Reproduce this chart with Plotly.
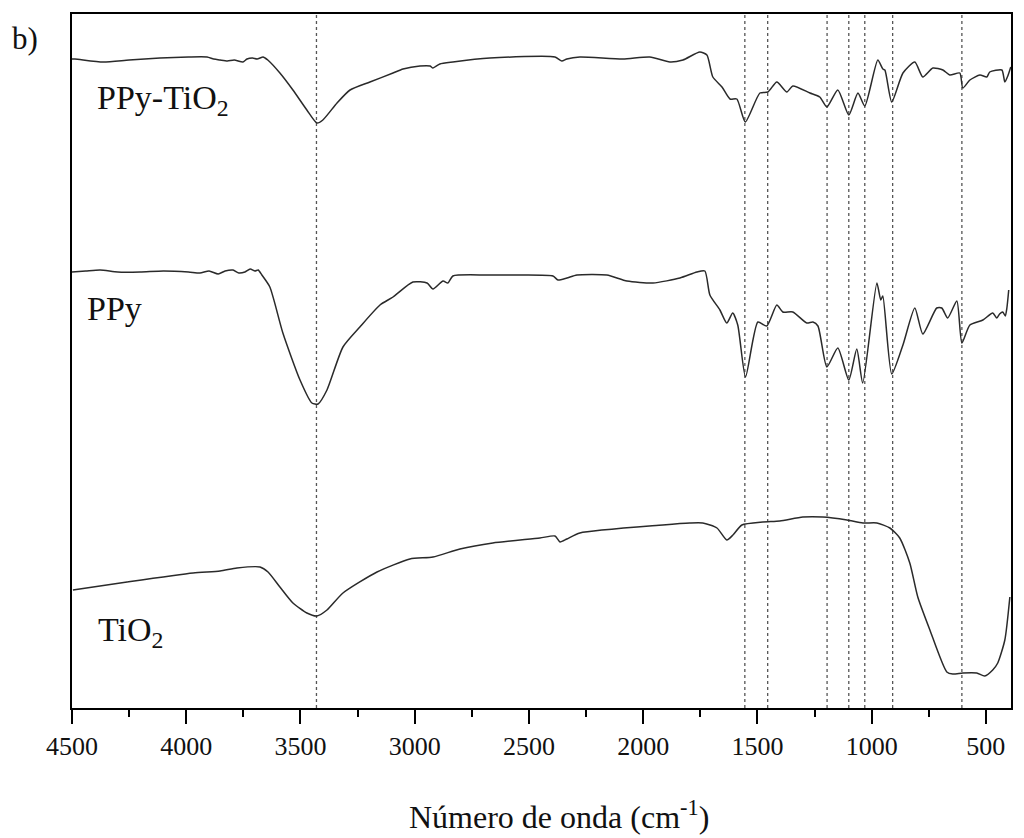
import plotly.graph_objects as go

# ---------------- data (wavenumber in cm-1, transmittance in arbitrary units) -------------
ppy_tio2_wn = [4500, 4487, 4364, 4250, 4115, 3990, 3909, 3880, 3852, 3820, 3790, 3752, 3740, 3734,
               3710, 3690, 3664, 3655, 3643, 3590, 3533, 3472, 3428, 3402, 3340, 3283, 3196, 3095,
               3051, 2977, 2933, 2920, 2890, 2833, 2671, 2386, 2356, 2334, 2277, 2089, 1971, 1883,
               1826, 1752, 1721, 1695, 1655, 1620, 1590, 1553, 1489, 1454, 1415, 1371, 1345, 1270,
               1227, 1196, 1148, 1100, 1060, 1030, 973, 951, 942, 912, 863, 811, 776, 732, 688, 658,
               614, 601, 570, 526, 496, 483, 430, 417, 404, 391]
ppy_tio2_t = [649, 649, 646, 648, 650, 651, 651, 649, 648, 647, 648, 646, 648, 649,
              650, 649, 651, 650, 648, 635, 618, 598, 585, 588, 605, 618, 626, 635,
              639, 642, 642, 640, 644, 646, 650, 651, 647, 649, 651, 649, 651, 646,
              648, 656, 653, 631, 621, 609, 609, 586, 615, 616, 626, 616, 622, 615,
              611, 601, 618, 593, 615, 602, 648, 639, 638, 606, 635, 646, 631, 640, 638, 633,
              635, 620, 628, 633, 631, 636, 638, 626, 632, 641]

ppy_wn = [4500, 4440, 4377, 4300, 4202, 4100, 3990, 3940, 3900, 3860, 3830, 3795, 3770, 3743,
          3720, 3699, 3685, 3669, 3634, 3577, 3502, 3450, 3423, 3384, 3314, 3240, 3152, 3095,
          3008, 2946, 2920, 2876, 2855, 2833, 2684, 2539, 2395, 2373, 2334, 2290, 2159, 2071,
          1957, 1839, 1765, 1730, 1708, 1664, 1634, 1608, 1586, 1552, 1498, 1459, 1415, 1389,
          1345, 1284, 1257, 1235, 1196, 1148, 1100, 1065, 1039, 977, 960, 951, 912, 863, 811,
          776, 715, 693, 667, 627, 605, 570, 513, 470, 452, 440, 426, 415, 408, 400]
ppy_t = [436, 437, 438, 436, 436, 437, 436, 435, 437, 434, 437, 438, 435, 436,
         439, 437, 438, 433, 421, 375, 328, 305, 304, 318, 361, 381, 403, 411,
         426, 425, 419, 427, 425, 432, 433, 433, 432, 428, 430, 433, 433, 427,
         425, 430, 436, 437, 413, 398, 385, 395, 383, 331, 386, 382, 403, 396,
         396, 385, 386, 382, 341, 360, 328, 359, 325, 425, 408, 412, 334, 363, 400,
         374, 400, 400, 390, 407, 365, 383, 388, 395, 390, 394, 396, 392, 400, 418]

tio2_wn = [4496, 4259, 3970, 3852, 3778, 3677, 3642, 3590, 3533, 3472, 3428, 3384, 3314, 3165,
           3021, 2920, 2802, 2658, 2452, 2386, 2364, 2334, 2277, 1914, 1796, 1739, 1677, 1634,
           1607, 1568, 1476, 1402, 1301, 1214, 1108, 1038, 977, 920, 877, 833, 798, 745, 671,
           645, 601, 540, 505, 470, 448, 417, 395]
tio2_t = [118, 126, 135, 137, 140, 141, 136, 121, 105, 95, 92, 98, 115, 136,
          149, 151, 159, 165, 170, 172, 166, 169, 175, 183, 185, 185, 180, 168,
          173, 183, 186, 187, 191, 191, 188, 185, 185, 180, 170, 145, 111, 78, 36,
          34, 35, 35, 32, 38, 45, 68, 111]

marker_lines = [3430, 1555, 1455, 1195, 1100, 1030, 908, 605]

tick_vals = [4500, 4000, 3500, 3000, 2500, 2000, 1500, 1000, 500]
tick_text = [str(v) for v in tick_vals]

series = [("PPy-TiO<sub>2</sub>", ppy_tio2_wn, ppy_tio2_t, 4400, 608),
          ("PPy", ppy_wn, ppy_t, 4445, 400),
          ("TiO<sub>2</sub>", tio2_wn, tio2_t, 4395, 76)]

FONT = "Liberation Serif"
LINE_COLOR = "#2a2a2a"

fig = go.Figure()
for name, wn, t, lx, ly in series:
    fig.add_trace(go.Scatter(x=wn, y=t, mode="lines", name=name,
                             line=dict(color=LINE_COLOR, width=1.5, shape="spline", smoothing=0.6),
                             showlegend=False, hoverinfo="skip"))

shapes = []
for w in marker_lines:
    shapes.append(dict(type="line", xref="x", yref="paper", x0=w, x1=w, y0=0, y1=1,
                       line=dict(color="#555555", width=1.3, dash="dot"), layer="below"))

annotations = []
for name, wn, t, lx, ly in series:
    annotations.append(dict(x=lx, y=ly, xref="x", yref="y", text=name, showarrow=False,
                            xanchor="left", yanchor="middle",
                            font=dict(family=FONT, size=34, color="#111111")))
annotations.append(dict(x=-0.066, y=0.965, xref="paper", yref="paper", text="b)",
                        showarrow=False, xanchor="left", yanchor="middle",
                        font=dict(family=FONT, size=31, color="#111111")))
annotations.append(dict(x=0.5186, y=-0.154, xref="paper", yref="paper",
                        text="Número de onda (cm<sup>-1</sup>)", showarrow=False,
                        xanchor="center", yanchor="middle",
                        font=dict(family=FONT, size=32, color="#111111")))

fig.update_layout(
    width=1024, height=838,
    margin=dict(l=72, r=13, t=14, b=130),
    paper_bgcolor="white", plot_bgcolor="white",
    font=dict(family=FONT, color="#111111"),
    shapes=shapes, annotations=annotations,
    xaxis=dict(range=[4500, 390], tickmode="array", tickvals=tick_vals, ticktext=tick_text,
               ticks="outside", ticklen=14, tickwidth=2, tickcolor="black",
               minor=dict(ticks="outside", ticklen=7, tickwidth=2, tickcolor="black", dtick=250,
                          showgrid=False),
               showline=True, linecolor="black", linewidth=2, mirror=True,
               showgrid=False, zeroline=False,
               tickfont=dict(family=FONT, size=26, color="#111111")),
    yaxis=dict(range=[0, 694], showticklabels=False, ticks="", showline=True,
               linecolor="black", linewidth=2, mirror=True, showgrid=False, zeroline=False),
)

fig.write_html("out.html")
